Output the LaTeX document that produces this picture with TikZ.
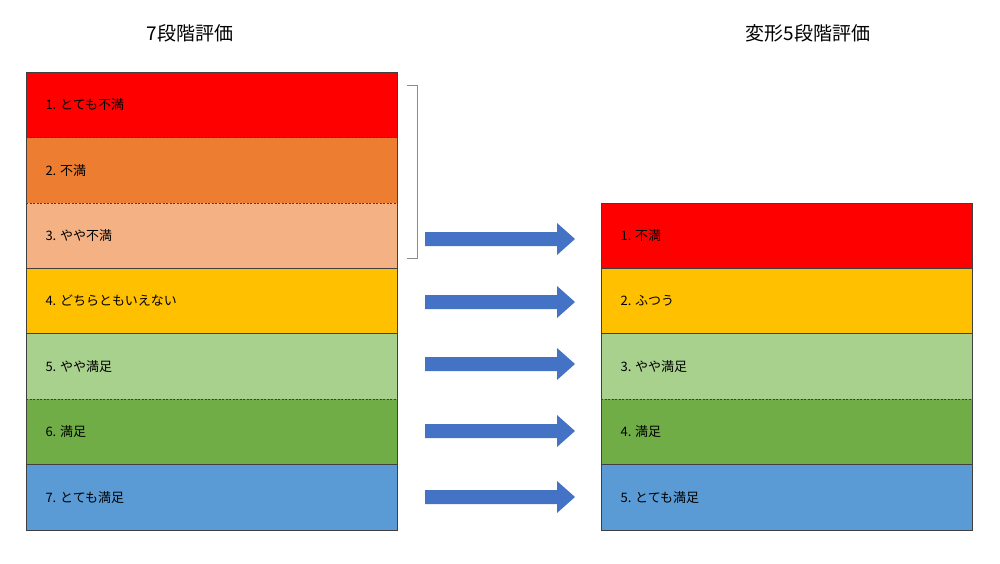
\documentclass[tikz,border=0pt]{standalone}
\usepackage{fontspec}
\setmainfont{Noto Sans CJK JP}
\begin{document}
\begin{tikzpicture}[x=1pt,y=-1pt,
  cell/.style={draw=none,minimum width=371pt,anchor=north west,inner sep=0pt},
  lbl/.style={anchor=west,font=\fontsize{13}{15}\selectfont},
  ttl/.style={font=\fontsize{19}{22}\selectfont},
  sep/.style={draw=black!75,line width=0.6pt},
  dsep/.style={sep,dash pattern=on 2pt off 1.5pt},
  arr/.style={fill=arrowblue,draw=none}]
\definecolor{c1}{HTML}{FF0000}
\definecolor{c2}{HTML}{ED7D31}
\definecolor{c3}{HTML}{F4B183}
\definecolor{c4}{HTML}{FFC000}
\definecolor{c5}{HTML}{A9D18E}
\definecolor{c6}{HTML}{70AD47}
\definecolor{c7}{HTML}{5B9BD5}
\definecolor{arrowblue}{HTML}{4472C4}
\useasboundingbox (0,0) rectangle (1000,563);
\node[ttl] (t1) at (190,33) {7段階評価};
\node[ttl] (t2) at (808,33) {変形5段階評価};
% left
\def\Lx{26}
\foreach \i/\a/\b/\c/\t in {1/72/137.5/c1/1. とても不満,2/137.5/203/c2/2. 不満,3/203/268/c3/3. やや不満,4/268/333.5/c4/4. どちらともいえない,5/333.5/399/c5/5. やや満足,6/399/464.5/c6/6. 満足,7/464.5/530/c7/7. とても満足}{
  \fill[\c] (26,\a) rectangle (397,\b);
  \node[lbl] (L\i) at (42,{(\a+\b)/2}) {\t};
}
\draw[dsep] (26,137.5) -- (397,137.5);
\draw[dsep] (26,203) -- (397,203);
\draw[sep] (26,268) -- (397,268);
\draw[sep] (26,333.5) -- (397,333.5);
\draw[dsep] (26,399) -- (397,399);
\draw[sep] (26,464.5) -- (397,464.5);
\draw[sep] (26,72) rectangle (397,530);
% right
\foreach \i/\a/\b/\c/\t in {1/203/268/c1/1. 不満,2/268/333.5/c4/2. ふつう,3/333.5/399/c5/3. やや満足,4/399/464.5/c6/4. 満足,5/464.5/530/c7/5. とても満足}{
  \fill[\c] (601,\a) rectangle (972,\b);
  \node[lbl] (R\i) at (617,{(\a+\b)/2}) {\t};
}
\draw[sep] (601,268) -- (972,268);
\draw[sep] (601,333.5) -- (972,333.5);
\draw[dsep] (601,399) -- (972,399);
\draw[sep] (601,464.5) -- (972,464.5);
\draw[sep] (601,203) rectangle (972,530);
% bracket
\draw[black!45,line width=0.7pt] (407,85) -- (417,85) -- (417,258) -- (407,258);
% arrows
\foreach \y in {239,302,364,431,497}{
  \fill[arr] (425,\y-7) -- (557,\y-7) -- (557,\y-16) -- (575,\y) -- (557,\y+16) -- (557,\y+7) -- (425,\y+7) -- cycle;
}
\end{tikzpicture}
\end{document}
